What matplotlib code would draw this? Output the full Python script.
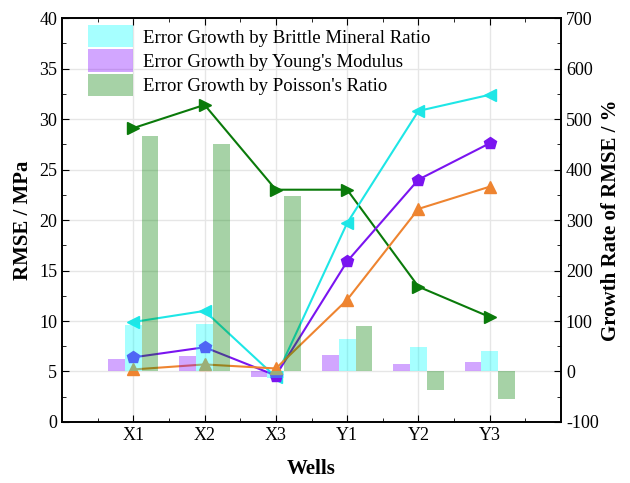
import numpy as np
import matplotlib
matplotlib.use("Agg")
import matplotlib.pyplot as plt

wells = ["X1", "X2", "X3", "Y1", "Y2", "Y3"]

# RMSE (left axis, MPa)
rmse_poisson = [29.1, 31.4, 23.0, 23.0, 13.4, 10.4]
rmse_brittle = [9.9, 11.0, 4.45, 19.7, 30.8, 32.4]
rmse_young = [6.4, 7.4, 4.6, 15.9, 24.0, 27.6]
rmse_base = [5.2, 5.7, 5.3, 12.1, 21.1, 23.3]

# growth rate of RMSE (right axis, %)
growth_young = [24, 31, -11, 33, 15, 19]
growth_brittle = [92, 95, -13, 64, 48, 40]
growth_poisson = [467, 450, 348, 91, -37, -55]

plt.rcParams["font.family"] = ["Liberation Serif", "DejaVu Serif"]
plt.rcParams["axes.unicode_minus"] = False

fig = plt.figure(figsize=(6.3, 4.83), dpi=100)
ax = fig.add_axes([0.0984, 0.1263, 0.7921, 0.8364])
ax2 = ax.twinx()

x = np.arange(1, len(wells) + 1)
lw = 1.5
ax.plot(x, rmse_poisson, "-", color="#0a7a0a", marker=">", markersize=9, lw=lw)
ax.plot(x, rmse_brittle, "-", color="#1ee6e6", marker="<", markersize=9, lw=lw)
ax.plot(x, rmse_young, "-", color="#7a14f0", marker="p", markersize=9, lw=lw)
ax.plot(x, rmse_base, "-", color="#ee8430", marker="^", markersize=9, lw=lw)

# bars sit on the twin axis, drawn over the lines
w = 0.235
b1 = ax2.bar(x - w, growth_young, w, color="#8000ff", alpha=0.35, label="Error Growth by Young's Modulus")
b2 = ax2.bar(x, growth_brittle, w, color="#00ffff", alpha=0.35, label="Error Growth by Brittle Mineral Ratio")
b3 = ax2.bar(x + w, growth_poisson, w, color="#008000", alpha=0.35, label="Error Growth by Poisson's Ratio")

ax.set_xlim(0, 7)
ax.set_ylim(0, 40)
ax2.set_ylim(-100, 700)
ax.set_yticks(np.arange(0, 41, 5))
ax.set_yticks(np.arange(0, 41, 2.5), minor=True)
ax2.set_yticks(np.arange(-100, 701, 100))
ax2.set_yticks(np.arange(-100, 701, 50), minor=True)
ax.set_xticks(x)
ax.set_xticklabels(wells)
ax.set_xticks(np.arange(0.5, 7, 1), minor=True)

ax.grid(True, color="#e6e6e6", lw=1)
ax.set_axisbelow(True)

for a in (ax, ax2):
    a.tick_params(which="both", direction="in", labelsize=13, top=True)
    a.tick_params(which="major", length=5)
    a.tick_params(which="minor", length=3)
    for s in a.spines.values():
        s.set_linewidth(1.2)

ax.set_ylabel("RMSE / MPa", fontsize=15, fontweight="bold")
ax2.set_ylabel("Growth Rate of RMSE / %", fontsize=15, fontweight="bold", labelpad=2)
ax.set_xlabel("Wells", fontsize=15, fontweight="bold", labelpad=11)

ax2.legend(handles=[b2, b1, b3], loc="upper left", bbox_to_anchor=(0.03, 1.01),
           frameon=False, fontsize=13.5, handlelength=2.4, handleheight=1.45,
           labelspacing=0.1, handletextpad=0.5, borderaxespad=0.2)

fig.savefig("out.png", dpi=100)
